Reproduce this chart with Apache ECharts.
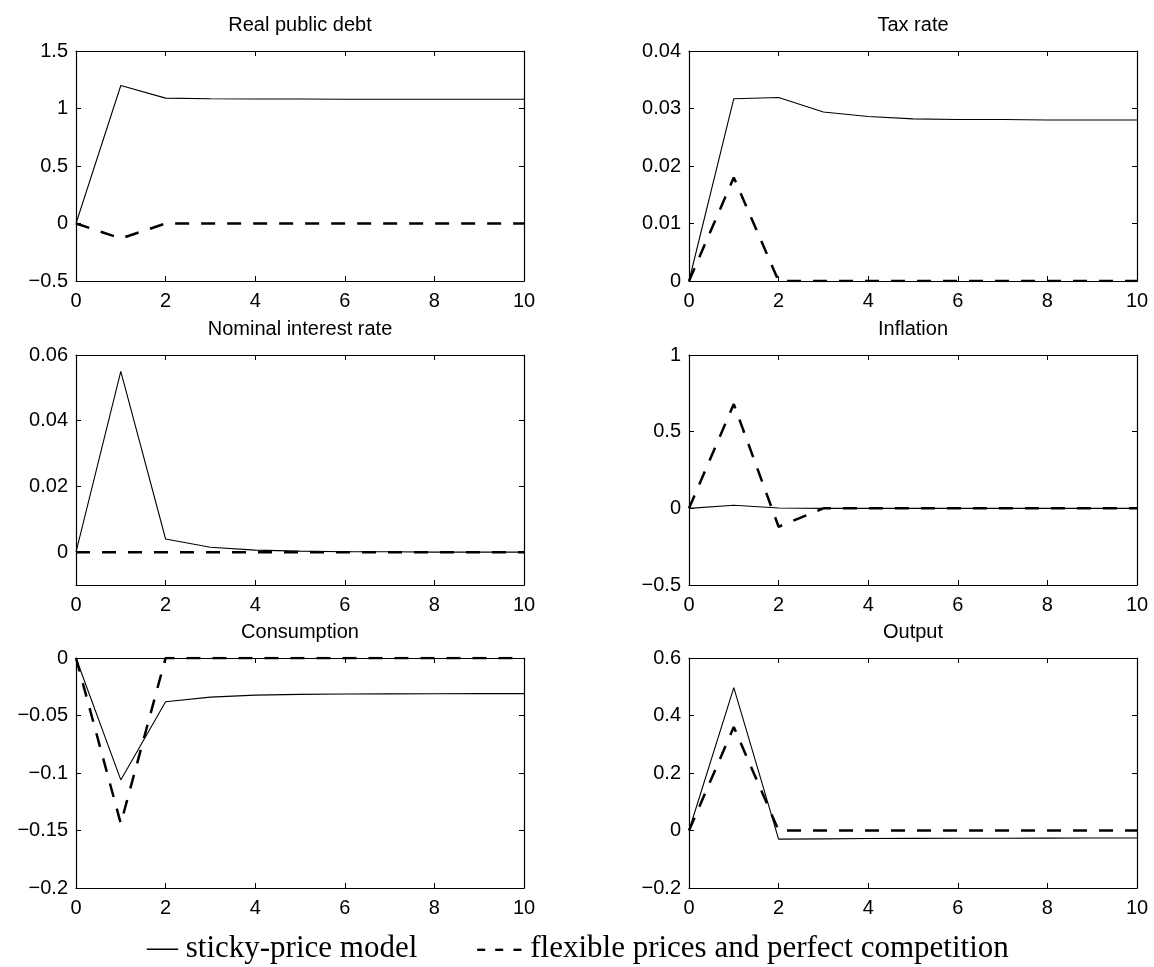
<!DOCTYPE html>
<html>
<head>
<meta charset="utf-8">
<script src="https://cdn.jsdelivr.net/npm/echarts@6/dist/echarts.min.js"></script>
<style>html,body{margin:0;padding:0;background:#fff;}#c{width:1154px;height:967px;}</style>
</head>
<body>
<div id="c"></div>
<script>
// ---- data ----
const periods = [0, 1, 2, 3, 4, 5, 6, 7, 8, 9, 10];
const panelTitles = ['Real public debt', 'Tax rate', 'Nominal interest rate', 'Inflation', 'Consumption', 'Output'];

const debtSticky = [0, 1.2, 1.09, 1.085, 1.083, 1.082, 1.081, 1.08, 1.08, 1.08, 1.08];
const debtFlex   = [0, -0.13, 0, 0, 0, 0, 0, 0, 0, 0, 0];

const taxSticky = [0, 0.0317, 0.0319, 0.0294, 0.0286, 0.0282, 0.0281, 0.0281, 0.028, 0.028, 0.028];
const taxFlex   = [0, 0.018, 0, 0, 0, 0, 0, 0, 0, 0, 0];

const rateSticky = [0, 0.055, 0.004, 0.0015, 0.0006, 0.0003, 0.0001, 0.0001, 0, 0, 0];
const rateFlex   = [0, 0, 0, 0, 0, 0, 0, 0, 0, 0, 0];

const inflSticky = [0, 0.02, 0.002, 0, 0, 0, 0, 0, 0, 0, 0];
const inflFlex   = [0, 0.68, -0.12, 0, 0, 0, 0, 0, 0, 0, 0];

const consSticky = [0, -0.106, -0.038, -0.034, -0.0323, -0.0316, -0.0313, -0.0312, -0.0311, -0.031, -0.031];
const consFlex   = [0, -0.144, 0, 0, 0, 0, 0, 0, 0, 0, 0];

const outSticky = [0, 0.497, -0.03, -0.029, -0.028, -0.0275, -0.027, -0.027, -0.0265, -0.026, -0.026];
const outFlex   = [0, 0.36, 0, 0, 0, 0, 0, 0, 0, 0, 0];

// y-axis ranges: [min, max, interval], tick labels
const yRanges = [
  [-0.5, 1.5, 0.5],
  [0, 0.04, 0.01],
  [-0.01, 0.06, 0.01],
  [-0.5, 1, 0.5],
  [-0.2, 0, 0.05],
  [-0.2, 0.6, 0.2]
];
const rateTicks = [0, 0.02, 0.04, 0.06];
const xTickInterval = 2;

const legendSticky = '\u2014 sticky-price model';
const legendFlex = '- - - flexible prices and perfect competition';

const stickyData = [debtSticky, taxSticky, rateSticky, inflSticky, consSticky, outSticky];
const flexData = [debtFlex, taxFlex, rateFlex, inflFlex, consFlex, outFlex];

// ---- layout ----
const colLeft = [76, 689];
const rowTop = [51, 355, 658];
const plotW = 448, plotH = 230;
const sans = 'Liberation Sans, Arial, Helvetica, sans-serif';
const serifFont = '31px "Liberation Serif", "DejaVu Serif", serif';

function fmt(v) {
  const s = String(Math.round(v * 1e6) / 1e6);
  return s.replace('-', '\u2212');
}

const grids = [], xAxes = [], yAxes = [], series = [], graphics = [];
for (let i = 0; i < 6; i++) {
  const col = i % 2, row = Math.floor(i / 2);
  grids.push({ left: colLeft[col], top: rowTop[row], width: plotW, height: plotH, containLabel: false });
  const lineStyle = { color: '#000', width: 1.2 };
  const baseX = {
    type: 'value', gridIndex: i, min: 0, max: 10, interval: xTickInterval,
    axisLine: { show: true, onZero: false, lineStyle },
    axisTick: { show: true, inside: true, length: 5, lineStyle: { color: '#000', width: 1 } },
    splitLine: { show: false }
  };
  xAxes.push(Object.assign({}, baseX, { position: 'bottom',
    axisLabel: { show: true, color: '#000', fontSize: 20, fontFamily: sans, margin: 10, formatter: fmt } }));
  xAxes.push(Object.assign({}, baseX, { position: 'top', axisLabel: { show: false } }));
  const [mn, mx, iv] = yRanges[i];
  const tickOpt = { show: true, inside: true, length: 5, lineStyle: { color: '#000', width: 1 } };
  const labOpt = { show: true, color: '#000', fontSize: 20, fontFamily: sans, margin: 8, formatter: fmt };
  if (i === 2) { tickOpt.customValues = rateTicks; labOpt.customValues = rateTicks; }
  const baseY = {
    type: 'value', gridIndex: i, min: mn, max: mx, interval: iv,
    axisLine: { show: true, onZero: false, lineStyle },
    axisTick: tickOpt,
    splitLine: { show: false }
  };
  yAxes.push(Object.assign({}, baseY, { position: 'left', axisLabel: labOpt }));
  yAxes.push(Object.assign({}, baseY, { position: 'right', axisLabel: { show: false } }));

  series.push({
    type: 'line', xAxisIndex: 2 * i, yAxisIndex: 2 * i, showSymbol: false, symbol: 'none',
    data: periods.map((x, j) => [x, stickyData[i][j]]),
    lineStyle: { color: '#000', width: 1.1 }, z: 3
  });
  series.push({
    type: 'line', xAxisIndex: 2 * i, yAxisIndex: 2 * i, showSymbol: false, symbol: 'none',
    data: periods.map((x, j) => [x, flexData[i][j]]),
    lineStyle: { color: '#000', width: 2.5, type: [14, 12] }, z: 4
  });

  graphics.push({
    type: 'text', x: colLeft[col] + plotW / 2, y: rowTop[row] - 26,
    style: { text: panelTitles[i], fill: '#000', font: '20px ' + sans, align: 'center', verticalAlign: 'middle' }
  });
}

graphics.push({
  type: 'text', x: 147, y: 949,
  style: { text: legendSticky, fill: '#000', font: serifFont, align: 'left', verticalAlign: 'middle' }
});
graphics.push({
  type: 'text', x: 476, y: 949,
  style: { text: legendFlex, fill: '#000', font: serifFont, align: 'left', verticalAlign: 'middle' }
});

const chart = echarts.init(document.getElementById('c'), null, { renderer: 'canvas' });
chart.setOption({
  animation: false,
  backgroundColor: '#fff',
  grid: grids,
  xAxis: xAxes,
  yAxis: yAxes,
  series: series,
  graphic: graphics
});
</script>
</body>
</html>
